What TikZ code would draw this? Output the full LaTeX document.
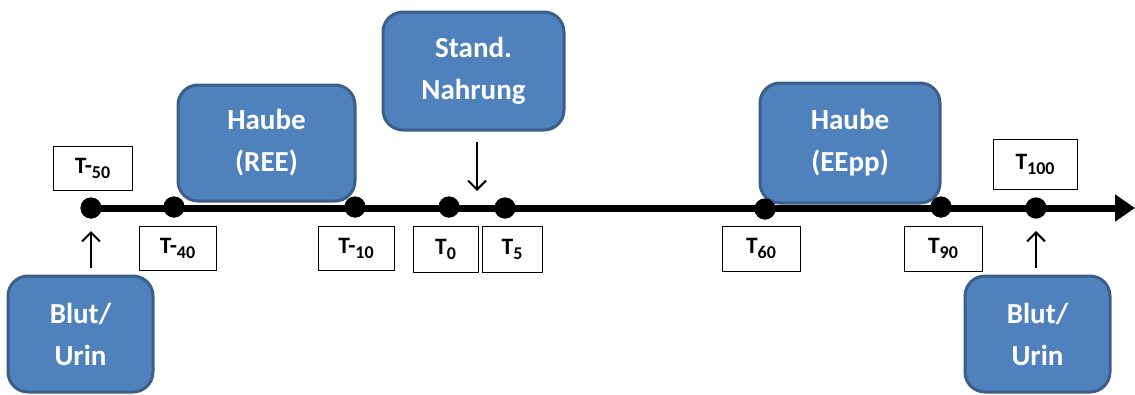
\documentclass[tikz,border=0pt]{standalone}
\usepackage{fontspec}
\setmainfont{Carlito}
\usetikzlibrary{arrows.meta}
\definecolor{boxblue}{HTML}{4F81BD}
\definecolor{boxedge}{HTML}{3A5F8B}
\newcommand{\subidx}[1]{\raisebox{-5pt}{\fontsize{18}{18}\selectfont #1}}
\tikzset{
  bluebox/.style={draw=boxedge, line width=3pt, fill=boxblue, rounded corners=20pt,
    text=white, font=\fontsize{29}{42}\selectfont\bfseries, align=center, inner sep=0pt},
  tlabel/.style={draw=black, line width=1pt, fill=white, inner sep=0pt,
    font=\fontsize{23.5}{24}\selectfont\bfseries},
  dot/.style={circle, fill=black, minimum size=21pt, inner sep=0pt},
  timeline/.style={line width=7pt, -{Triangle[length=20pt,width=26pt]}},
  thinarrow/.style={line width=2pt, -{Straight Barb[length=9pt,width=18pt]}}
}
\begin{document}
\begin{tikzpicture}[x=1pt,y=-1pt]
\useasboundingbox (0,0) rectangle (1135,394);
% blue boxes
\node[bluebox, minimum width=177pt, minimum height=116pt] (hree) at (266.5,143) {Haube\\(REE)};
\node[bluebox, minimum width=181pt, minimum height=118pt] (nahr) at (473.5,71) {Stand.\\Nahrung};
\node[bluebox, minimum width=180pt, minimum height=120pt] (heepp) at (850,143) {Haube\\(EEpp)};
\node[bluebox, minimum width=145pt, minimum height=116pt] (blut1) at (80.5,334) {Blut/\\Urin};
\node[bluebox, minimum width=145pt, minimum height=116pt] (blut2) at (1037.5,334) {Blut/\\Urin};
% timeline dots
\node[dot] (d50) at (91,208) {};
\node[dot] (d40) at (174,207) {};
\node[dot] (d10) at (355,207) {};
\node[dot] (d0) at (449,207) {};
\node[dot] (d5) at (505,208) {};
\node[dot] (d60) at (765,209) {};
\node[dot] (d90) at (941,207) {};
\node[dot] (d100) at (1036,208) {};
\coordinate (tend) at (1135,208);
\draw[timeline] (d50.center) -- (tend);
\foreach \n in {d50,d40,d10,d0,d5,d60,d90,d100} \fill (\n) circle (10.5pt);
% labels
\node[tlabel, minimum width=79pt, minimum height=44pt] (l50) at (92.5,168) {T-\subidx{50}};
\node[tlabel, minimum width=77pt, minimum height=44pt] (l40) at (177.5,248) {T-\subidx{40}};
\node[tlabel, minimum width=76pt, minimum height=44pt] (l10) at (356,248) {T-\subidx{10}};
\node[tlabel, minimum width=65pt, minimum height=46pt] (l0) at (445.5,249) {T\subidx{0}};
\node[tlabel, minimum width=60pt, minimum height=46pt] (l5) at (512,249) {T\subidx{5}};
\node[tlabel, minimum width=78pt, minimum height=45pt] (l60) at (761,248.5) {T\subidx{60}};
\node[tlabel, minimum width=78pt, minimum height=45pt] (l90) at (943,248.5) {T\subidx{90}};
\node[tlabel, minimum width=84pt, minimum height=50pt] (l100) at (1035,164) {T\subidx{100}};
% thin arrows
\coordinate (a1s) at (91,268);
\coordinate (a1e) at (91,231);
\draw[thinarrow] (a1s) -- (a1e);
\coordinate (a2s) at (1036,268);
\coordinate (a2e) at (1036,231);
\draw[thinarrow] (a2s) -- (a2e);
\coordinate (a3s) at (477,142);
\coordinate (a3e) at (477,191);
\draw[thinarrow] (a3s) -- (a3e);
\end{tikzpicture}
\end{document}
